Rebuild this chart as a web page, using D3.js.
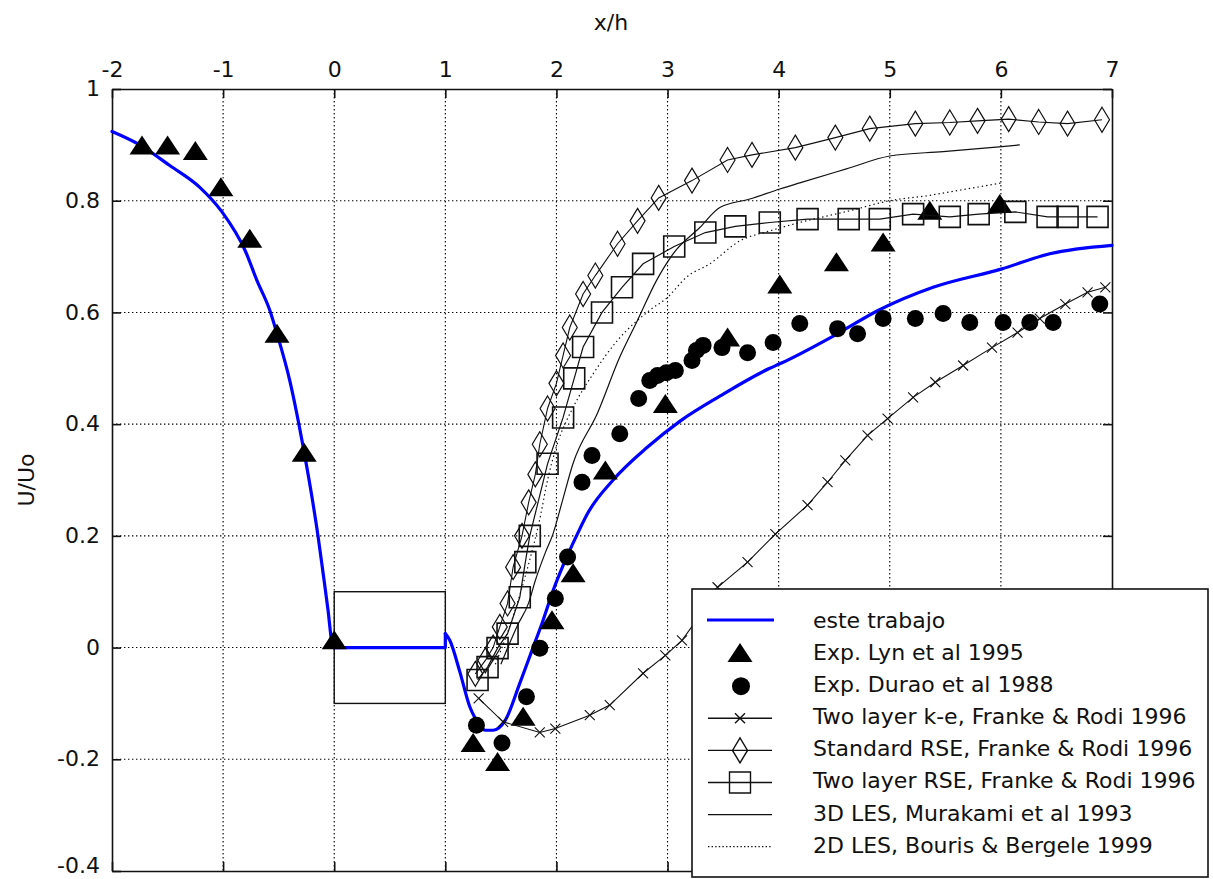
<!DOCTYPE html>
<html>
<head>
<meta charset="utf-8">
<script src="https://cdn.jsdelivr.net/npm/d3@7"></script>
<style>
  html, body { margin: 0; padding: 0; background: #fff; }
  svg { display: block; }
  text { font-family: "DejaVu Sans", sans-serif; fill: #111; }
</style>
</head>
<body>
<svg id="chart" width="1213" height="879"></svg>
<script>
// ---------------- data ----------------
const xTicks = [-2, -1, 0, 1, 2, 3, 4, 5, 6, 7];
const yTicks = [-0.4, -0.2, 0, 0.2, 0.4, 0.6, 0.8, 1];
const xTickLabels = ["-2", "-1", "0", "1", "2", "3", "4", "5", "6", "7"];
const yTickLabels = ["-0.4", "-0.2", "0", "0.2", "0.4", "0.6", "0.8", "1"];

const xLabel = "x/h";
const yLabel = "U/Uo";

// square cylinder outline (x from 0 to 1, y from -0.1 to 0.1)
const cylinderX = [0, 1];
const cylinderY = [-0.1, 0.1];

const legendLabels = [
  "este trabajo",
  "Exp. Lyn et al 1995",
  "Exp. Durao et al 1988",
  "Two layer k-e, Franke & Rodi 1996",
  "Standard RSE, Franke & Rodi 1996",
  "Two layer RSE, Franke & Rodi 1996",
  "3D LES, Murakami et al 1993",
  "2D LES, Bouris & Bergele 1999"
];

// este trabajo (blue line): upstream part, wall part, wake part
const esteUpstream = [
  [-2, 0.924], [-1.75, 0.90], [-1.48, 0.863], [-1.21, 0.824], [-1.01, 0.78],
  [-0.80, 0.71], [-0.695, 0.657], [-0.58, 0.604], [-0.515, 0.562], [-0.40, 0.478],
  [-0.27, 0.349], [-0.20, 0.269], [-0.146, 0.20], [-0.10, 0.133], [-0.055, 0.066],
  [-0.02, 0.008], [0, 0]
];
const esteWall = [[0, 0], [1, 0], [1, 0.025]];
const esteWake = [
  [1, 0.025], [1.04, 0.013], [1.13, -0.043],
  [1.22, -0.106], [1.27, -0.127], [1.36, -0.148], [1.43, -0.148], [1.54, -0.13],
  [1.67, -0.064], [1.78, -0.005], [1.88, 0.049], [1.97, 0.102], [2.06, 0.147],
  [2.19, 0.204], [2.28, 0.240], [2.51, 0.30], [2.82, 0.359], [3.11, 0.405],
  [3.47, 0.450], [3.92, 0.50], [4.01, 0.508], [4.53, 0.562], [4.89, 0.603],
  [5.39, 0.645], [6.01, 0.678], [6.44, 0.705], [7.0, 0.72]
];

// Exp. Lyn et al 1995 (triangles)
const lyn1995 = [
  [-1.73, 0.899], [-1.50, 0.899], [-1.25, 0.889], [-1.02, 0.824], [-0.76, 0.732],
  [-0.515, 0.562], [-0.27, 0.349], [0.0, 0.013], [1.25, -0.171], [1.47, -0.205],
  [1.70, -0.124], [1.96, 0.049], [2.15, 0.133], [2.44, 0.317], [2.98, 0.436],
  [3.54, 0.555], [4.01, 0.65], [4.52, 0.69], [4.94, 0.725], [5.36, 0.782], [5.99, 0.794]
];

// Exp. Durao et al 1988 (filled circles)
const durao1988 = [
  [1.28, -0.139], [1.51, -0.171], [1.73, -0.088], [1.85, -0.001], [1.99, 0.088],
  [2.10, 0.162], [2.23, 0.296], [2.32, 0.344], [2.57, 0.383], [2.74, 0.446],
  [2.84, 0.478], [2.91, 0.487], [2.99, 0.492], [3.07, 0.496], [3.22, 0.514],
  [3.26, 0.532], [3.32, 0.541], [3.49, 0.537], [3.72, 0.528], [3.95, 0.546],
  [4.19, 0.58], [4.53, 0.571], [4.71, 0.562], [4.94, 0.589], [5.23, 0.589],
  [5.48, 0.598], [5.72, 0.582], [6.02, 0.582], [6.26, 0.582], [6.47, 0.582], [6.89, 0.615]
];

// Two layer k-e, Franke & Rodi 1996 (x markers)
const twoLayerKe = [
  [1.30, -0.091], [1.52, -0.133], [1.85, -0.152], [1.99, -0.145], [2.30, -0.121],
  [2.48, -0.103], [2.78, -0.046], [2.98, -0.014], [3.13, 0.013], [3.30, 0.06],
  [3.45, 0.108], [3.72, 0.153], [3.97, 0.203], [4.26, 0.255], [4.44, 0.296],
  [4.60, 0.335], [4.80, 0.38], [4.98, 0.41], [5.21, 0.448], [5.41, 0.475],
  [5.66, 0.505], [5.92, 0.537], [6.15, 0.564], [6.35, 0.589], [6.58, 0.615],
  [6.78, 0.636], [6.94, 0.645]
];

// Standard RSE, Franke & Rodi 1996 (diamonds)
const standardRse = [
  [1.27, -0.047], [1.36, -0.023], [1.43, 0.0], [1.49, 0.037], [1.56, 0.079],
  [1.61, 0.144], [1.69, 0.20], [1.75, 0.26], [1.81, 0.31], [1.85, 0.364],
  [1.92, 0.428], [2.0, 0.473], [2.06, 0.523], [2.12, 0.573], [2.24, 0.633],
  [2.35, 0.666], [2.55, 0.723], [2.73, 0.764], [2.92, 0.805], [3.22, 0.836],
  [3.54, 0.873], [3.76, 0.882], [4.15, 0.895], [4.51, 0.913], [4.82, 0.929],
  [5.23, 0.938], [5.54, 0.94], [5.79, 0.943], [6.07, 0.946], [6.34, 0.941],
  [6.60, 0.938], [6.91, 0.945]
];

// Two layer RSE, Franke & Rodi 1996 (squares)
const twoLayerRse = [
  [1.29, -0.058], [1.38, -0.035], [1.47, -0.001], [1.56, 0.025], [1.67, 0.09],
  [1.72, 0.153], [1.76, 0.20], [1.92, 0.329], [2.06, 0.412], [2.16, 0.482],
  [2.24, 0.538], [2.41, 0.60], [2.59, 0.645], [2.78, 0.687], [3.06, 0.718],
  [3.34, 0.743], [3.61, 0.754], [3.92, 0.761], [4.26, 0.767], [4.63, 0.767],
  [4.91, 0.767], [5.21, 0.776], [5.54, 0.771], [5.80, 0.776], [6.13, 0.78],
  [6.42, 0.771], [6.60, 0.771], [6.87, 0.771]
];

// 3D LES, Murakami et al 1993 (solid thin line)
const les3d = [
  [1.50, -0.03], [1.65, 0.04], [1.75, 0.08], [1.81, 0.12], [1.90, 0.17],
  [1.97, 0.204], [2.05, 0.26], [2.15, 0.33], [2.37, 0.42], [2.57, 0.52],
  [2.73, 0.586], [2.90, 0.657], [3.05, 0.705], [3.29, 0.752], [3.47, 0.788],
  [3.74, 0.803], [4.01, 0.821], [4.19, 0.832], [4.61, 0.857], [5.0, 0.88],
  [5.48, 0.888], [6.01, 0.897], [6.17, 0.90]
];

// 2D LES, Bouris & Bergele 1999 (dotted thin line)
const les2d = [
  [1.45, -0.03], [1.60, 0.05], [1.75, 0.15], [1.85, 0.23], [1.92, 0.30],
  [2.0, 0.36], [2.15, 0.43], [2.33, 0.49], [2.55, 0.55], [2.84, 0.604],
  [3.0, 0.627], [3.17, 0.663], [3.38, 0.687], [3.65, 0.728], [3.92, 0.746],
  [4.19, 0.761], [4.64, 0.782], [5.0, 0.80], [5.34, 0.809], [5.69, 0.821], [6.01, 0.832]
];

// ---------------- drawing ----------------
const svg = d3.select("#chart");
const m = { left: 112, right: 1112, top: 89, bottom: 871 };

const x = d3.scaleLinear().domain([-2, 7]).range([m.left, m.right]);
const y = d3.scaleLinear().domain([-0.4, 1]).range([m.bottom, m.top]);

const FONT = 22;

// grid (dotted)
const grid = svg.append("g").attr("stroke", "#000").attr("stroke-width", 1.1)
  .attr("stroke-dasharray", "1.4,2.6");
grid.selectAll("line.gx").data(xTicks.slice(1, -1)).join("line")
  .attr("x1", d => x(d)).attr("x2", d => x(d))
  .attr("y1", m.top).attr("y2", m.bottom);
grid.selectAll("line.gy").data(yTicks.slice(1, -1)).join("line")
  .attr("y1", d => y(d)).attr("y2", d => y(d))
  .attr("x1", m.left).attr("x2", m.right);

// axes (ticks pointing inward on all four sides)
const tickLen = 9;
const axTop = svg.append("g").attr("transform", `translate(0,${m.top})`)
  .call(d3.axisTop(x).tickValues(xTicks).tickFormat((d, i) => xTickLabels[i])
    .tickSizeInner(-tickLen).tickSizeOuter(0).tickPadding(12));
const axLeft = svg.append("g").attr("transform", `translate(${m.left},0)`)
  .call(d3.axisLeft(y).tickValues(yTicks).tickFormat((d, i) => yTickLabels[i])
    .tickSizeInner(-tickLen).tickSizeOuter(0).tickPadding(12));
const axBottom = svg.append("g").attr("transform", `translate(0,${m.bottom})`)
  .call(d3.axisBottom(x).tickValues(xTicks).tickFormat("")
    .tickSizeInner(-tickLen).tickSizeOuter(0));
const axRight = svg.append("g").attr("transform", `translate(${m.right},0)`)
  .call(d3.axisRight(y).tickValues(yTicks).tickFormat("")
    .tickSizeInner(-tickLen).tickSizeOuter(0));
[axTop, axLeft, axBottom, axRight].forEach(a => {
  a.select(".domain").attr("stroke", "#111").attr("stroke-width", 1.6);
  a.selectAll(".tick line").attr("stroke", "#111").attr("stroke-width", 1.6);
  a.selectAll(".tick text").attr("font-size", FONT)
    .attr("font-family", '"DejaVu Sans", sans-serif').attr("fill", "#111");
});
// lowest label sits at the very bottom edge: lift it slightly so it stays in frame
axLeft.selectAll(".tick text").attr("dy", d => d === yTicks[0] ? "0.05em" : "0.3em");

// axis titles
svg.append("text").attr("x", 611).attr("y", 30).attr("text-anchor", "middle")
  .attr("font-size", FONT).text(xLabel);
svg.append("text").attr("transform", "translate(34,480) rotate(-90)")
  .attr("text-anchor", "middle").attr("font-size", FONT).text(yLabel);

// square cylinder
svg.append("rect")
  .attr("x", x(cylinderX[0])).attr("y", y(cylinderY[1]))
  .attr("width", x(cylinderX[1]) - x(cylinderX[0]))
  .attr("height", y(cylinderY[0]) - y(cylinderY[1]))
  .attr("fill", "none").attr("stroke", "#111").attr("stroke-width", 1.4);

const line = d3.line().x(d => x(d[0])).y(d => y(d[1]));
const smooth = d3.line().x(d => x(d[0])).y(d => y(d[1])).curve(d3.curveMonotoneX);

// marker paths (centered at 0,0)
const TRI = "M0,-10 L12.5,9 L-12.5,9 Z";
const DIA = "M0,-12.5 L7.5,0 L0,12.5 L-7.5,0 Z";
const SQ = "M-10.5,-10.5 L10.5,-10.5 L10.5,10.5 L-10.5,10.5 Z";
const XM = "M-5,-5 L5,5 M-5,5 L5,-5";

// este trabajo
const blue = svg.append("g").attr("fill", "none").attr("stroke", "#0000ff")
  .attr("stroke-width", 3.2).attr("stroke-linejoin", "round").attr("stroke-linecap", "round");
blue.append("path").datum(esteUpstream).attr("d", smooth);
blue.append("path").datum(esteWall).attr("d", line);
blue.append("path").datum(esteWake).attr("d", smooth);

// Lyn triangles
svg.append("g").selectAll("path").data(lyn1995).join("path")
  .attr("transform", d => `translate(${x(d[0])},${y(d[1])})`)
  .attr("d", TRI).attr("fill", "#000");

// Durao circles
svg.append("g").selectAll("circle").data(durao1988).join("circle")
  .attr("cx", d => x(d[0])).attr("cy", d => y(d[1])).attr("r", 8.5).attr("fill", "#000");

// two layer k-e
svg.append("path").datum(twoLayerKe).attr("d", line)
  .attr("fill", "none").attr("stroke", "#111").attr("stroke-width", 1.1);
svg.append("g").selectAll("path").data(twoLayerKe).join("path")
  .attr("transform", d => `translate(${x(d[0])},${y(d[1])})`)
  .attr("d", XM).attr("stroke", "#111").attr("stroke-width", 1.1).attr("fill", "none");

// standard RSE
svg.append("path").datum(standardRse).attr("d", line)
  .attr("fill", "none").attr("stroke", "#111").attr("stroke-width", 1.1);
svg.append("g").selectAll("path").data(standardRse).join("path")
  .attr("transform", d => `translate(${x(d[0])},${y(d[1])})`)
  .attr("d", DIA).attr("stroke", "#111").attr("stroke-width", 1.2).attr("fill", "none");

// two layer RSE
svg.append("path").datum(twoLayerRse).attr("d", line)
  .attr("fill", "none").attr("stroke", "#111").attr("stroke-width", 1.2);
svg.append("g").selectAll("path").data(twoLayerRse).join("path")
  .attr("transform", d => `translate(${x(d[0])},${y(d[1])})`)
  .attr("d", SQ).attr("stroke", "#111").attr("stroke-width", 1.6).attr("fill", "none");

// 3D LES
svg.append("path").datum(les3d).attr("d", smooth)
  .attr("fill", "none").attr("stroke", "#111").attr("stroke-width", 1.2);

// 2D LES
svg.append("path").datum(les2d).attr("d", smooth)
  .attr("fill", "none").attr("stroke", "#111").attr("stroke-width", 1.2)
  .attr("stroke-dasharray", "1.4,3");

// ---------------- legend ----------------
const lg = svg.append("g");
lg.append("rect").attr("x", 692).attr("y", 589).attr("width", 516).attr("height", 288)
  .attr("fill", "#fff").attr("stroke", "#111").attr("stroke-width", 1.6);
const rowY = i => 620 + i * 32.1;
const sx0 = 708, sx1 = 772, sxc = 740, tx = 813;
legendLabels.forEach((lab, i) => {
  const yy = rowY(i);
  const g = lg.append("g");
  if (i === 0) {
    g.append("line").attr("x1", sx0 - 1).attr("x2", sx1 + 2).attr("y1", yy).attr("y2", yy)
      .attr("stroke", "#0000ff").attr("stroke-width", 3.2);
  } else if (i === 1) {
    g.append("path").attr("transform", `translate(${sxc},${yy + 1})`).attr("d", TRI).attr("fill", "#000");
  } else if (i === 2) {
    g.append("circle").attr("cx", sxc + 1).attr("cy", yy + 2).attr("r", 9).attr("fill", "#000");
  } else {
    g.append("line").attr("x1", sx0).attr("x2", sx1).attr("y1", yy + 2).attr("y2", yy + 2)
      .attr("stroke", "#111").attr("stroke-width", i === 7 ? 1.2 : 1.4)
      .attr("stroke-dasharray", i === 7 ? "1.4,2.2" : null);
    const mk = { 3: XM, 4: DIA, 5: SQ }[i];
    if (mk) {
      g.append("path").attr("transform", `translate(${sxc},${yy + 2})`).attr("d", mk)
        .attr("stroke", "#111").attr("stroke-width", 1.4).attr("fill", "none");
    }
  }
  g.append("text").attr("x", tx).attr("y", yy).attr("dy", "0.36em")
    .attr("font-size", FONT).text(lab);
});
</script>
</body>
</html>
